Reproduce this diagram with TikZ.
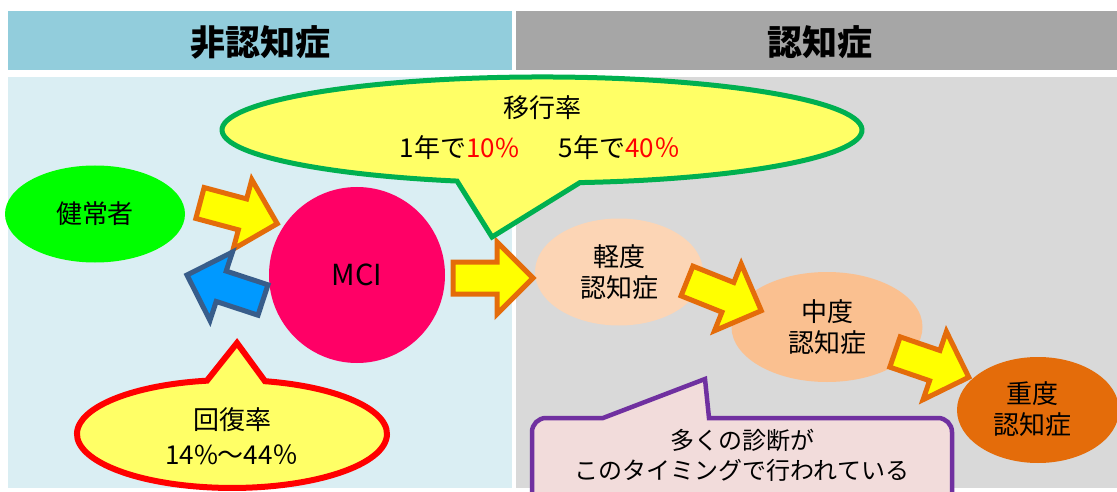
\documentclass[tikz,border=0pt]{standalone}
\usepackage{fontspec}
\setmainfont{Noto Sans CJK JP}
\usetikzlibrary{shapes.geometric}
\definecolor{hdrL}{HTML}{92CDDC}
\definecolor{hdrR}{HTML}{A6A6A6}
\definecolor{bodyL}{HTML}{DAEEF3}
\definecolor{bodyR}{HTML}{D9D9D9}
\definecolor{healthy}{HTML}{00FF00}
\definecolor{mci}{HTML}{FF0066}
\definecolor{mild}{HTML}{FCD5B5}
\definecolor{moderate}{HTML}{FAC090}
\definecolor{severe}{HTML}{E46C0A}
\definecolor{arrowB}{HTML}{E46C0A}
\definecolor{arrowF}{HTML}{FFFF00}
\definecolor{blueF}{HTML}{0099FF}
\definecolor{blueB}{HTML}{385D8A}
\definecolor{callF}{HTML}{FFFF66}
\definecolor{callG}{HTML}{00B050}
\definecolor{callR}{HTML}{FF0000}
\definecolor{boxF}{HTML}{F2DCDB}
\definecolor{boxB}{HTML}{7030A0}
\definecolor{pct}{HTML}{FF0000}
% block arrow: style, tail x, tail y, angle, length
\newcommand{\blkarrow}[5]{%
  \draw[#1, shift={(#2,#3)}, rotate=#4] (0,-16) -- ({#5-36},-16) -- ({#5-36},-36)
    -- (#5,0) -- ({#5-36},36) -- ({#5-36},16) -- (0,16) -- cycle;}
\begin{document}
\begin{tikzpicture}[x=1pt,y=-1pt,
  hdr/.style={font=\fontsize{35}{40}\selectfont\bfseries, text=black},
  txt/.style={font=\fontsize{26}{31}\selectfont, align=center, text=black},
  stage/.style={ellipse, inner sep=0pt, txt},
  fwdarr/.style={line width=5pt, line join=miter, draw=arrowB, fill=arrowF},
  backarr/.style={line width=5pt, line join=miter, draw=blueB, fill=blueF},
  callout/.style={fill=callF, line width=5pt, line join=miter},
  boxcall/.style={fill=boxF, draw=boxB, line width=4.5pt, line join=miter}
]
\useasboundingbox (0,0) rectangle (1117,492);
\clip (0,0) rectangle (1117,492);
% panels
\fill[hdrL] (8,11) rectangle (512,70);
\fill[hdrR] (516,11) rectangle (1117,70);
\fill[bodyL] (8,77) rectangle (512,488);
\fill[bodyR] (516,77) rectangle (1117,488);
\node[hdr] (hnon) at (260,42) {非認知症};
\node[hdr] (hdem) at (820,42) {認知症};
% stages
\node[stage, fill=healthy, minimum width=180pt, minimum height=97pt] (normal) at (95,214) {健常者};
\node[circle, fill=mci, minimum size=176pt, inner sep=0pt, font=\fontsize{29}{32}\selectfont] (mcinode) at (357,275) {MCI};
\node[stage, fill=mild, minimum width=168pt, minimum height=107pt] (mildnode) at (619,272) {軽度\\認知症};
\node[stage, fill=moderate, minimum width=191pt, minimum height=110pt] (modnode) at (827,327) {中度\\認知症};
\node[stage, fill=severe, minimum width=162pt, minimum height=106pt] (sevnode) at (1038,410) {};
\node[txt] (sevtext) at (1032,409) {重度\\認知症};
% block arrows
\blkarrow{fwdarr}{200}{203}{-15}{80}
\blkarrow{backarr}{263}{300}{161.8}{80}
\blkarrow{fwdarr}{453}{278}{0}{80}
\blkarrow{fwdarr}{687}{281}{-21.8}{80}
\blkarrow{fwdarr}{895}{352}{-18.9}{78}
% top callout
\draw[callout, draw=callG] (579.9,182.6) arc[start angle=83.2, end angle=-254.6, x radius=320, y radius=53] -- (492,237) -- cycle;
\node[txt] (ctitle) at (542,108) {移行率};
\node[txt] (crate) at (540,148) {1年で\textcolor{pct}{10\%}\hspace{40pt}5年で\textcolor{pct}{40％}};
% recovery callout
\draw[callout, draw=callR, line width=6pt] (265,381.2) arc[start angle=-77.7, end angle=260.7, x radius=155, y radius=54] -- (237,343) -- cycle;
\node[txt] (rtitle) at (232,420) {回復率};
\node[txt] (rrate) at (232,455) {14\%～44％};
% diagnosis box
\draw[boxcall] (532,505) -- (532,432) arc[start angle=180, end angle=270, radius=14] -- (603,418) -- (705,379) -- (709,418) -- (938,418) arc[start angle=270, end angle=360, radius=14] -- (952,505) -- cycle;
\node[txt, font=\fontsize{24}{30}\selectfont] (dtext) at (742,455) {多くの診断が\\このタイミングで行われている};
\end{tikzpicture}
\end{document}
